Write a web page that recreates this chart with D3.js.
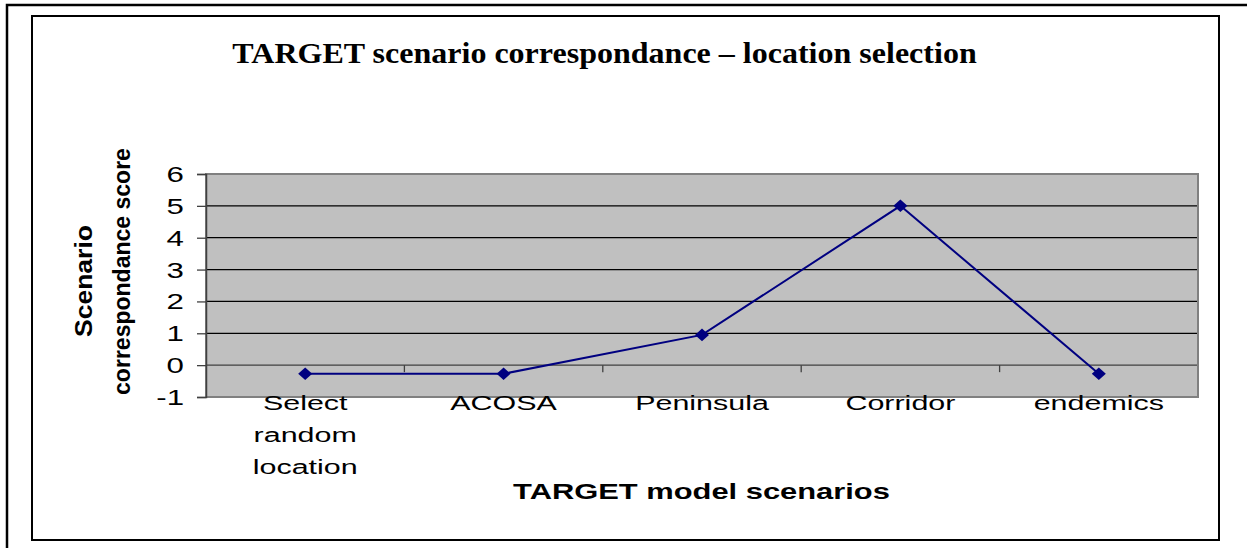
<!DOCTYPE html>
<html><head><meta charset="utf-8">
<script src="https://cdn.jsdelivr.net/npm/d3@7"></script>
<style>html,body{margin:0;padding:0;background:#fff;}svg{display:block;}</style>
</head><body>
<script>
const categories = ["Select random location", "ACOSA", "Peninsula", "Corridor", "endemics"];
const categoryLines = [["Select", "random", "location"], ["ACOSA"], ["Peninsula"], ["Corridor"], ["endemics"]];
const scores = [-0.27, -0.27, 0.95, 5, -0.27];
const yTicks = [-1, 0, 1, 2, 3, 4, 5, 6];
const titleText = "TARGET scenario correspondance \u2013 location selection";
const xTitle = "TARGET model scenarios";
const yTitleLines = ["Scenario", "correspondance score"];

const W = 1247, H = 548;
const SANS = "Liberation Sans, Arial, sans-serif";
const SERIF = "Liberation Serif, Times New Roman, serif";
const svg = d3.select("body").append("svg").attr("width", W).attr("height", H);

// place a text with horizontal stretch to a target width
function stretchText(g, str, ax, ay, opts) {
  const t = g.append("text").attr("x", 0).attr("y", 0)
    .attr("text-anchor", opts.anchor || "middle")
    .attr("font-family", opts.family || SANS)
    .attr("font-size", opts.size)
    .attr("font-weight", opts.weight || "normal")
    .attr("fill", "#000").text(str);
  const w = t.node().getComputedTextLength();
  const f = opts.width ? opts.width / w : (opts.factor || 1);
  t.attr("transform", `translate(${ax},${ay}) scale(${f},1)`);
  return t;
}

// outer frame (partial)
svg.append("path").attr("d", `M7,548 L7,5 L1247,5`).attr("fill", "none").attr("stroke", "#000").attr("stroke-width", 2.5);
// inner frame
svg.append("rect").attr("x", 32).attr("y", 16).attr("width", 1187).attr("height", 524)
  .attr("fill", "#fff").attr("stroke", "#000").attr("stroke-width", 2);

const pl = 206, pr = 1198, pt = 174, pb = 397;
const x = d3.scaleBand().domain(categories).range([pl, pr]);
const y = d3.scaleLinear().domain([-1, 6]).range([pb, pt]);

// plot area
svg.append("rect").attr("x", pl).attr("y", pt).attr("width", pr - pl).attr("height", pb - pt)
  .attr("fill", "#C0C0C0");

// gridlines
svg.append("g").selectAll("line").data(yTicks.filter(d => d > -1 && d < 6)).join("line")
  .attr("x1", pl).attr("x2", pr).attr("y1", d => y(d)).attr("y2", d => y(d))
  .attr("stroke", d => d === 0 ? "#404040" : "#000").attr("stroke-width", 1.3);

// plot border
svg.append("rect").attr("x", pl).attr("y", pt).attr("width", pr - pl).attr("height", pb - pt)
  .attr("fill", "none").attr("stroke", "#808080").attr("stroke-width", 2);

// y axis
const yAxis = d3.axisLeft(y).tickValues(yTicks).tickSize(9).tickFormat(d => String(d));
const yg = svg.append("g").attr("transform", `translate(${pl},0)`).call(yAxis);
yg.select(".domain").attr("stroke", "#404040").attr("stroke-width", 1.5);
yg.selectAll(".tick line").attr("stroke", "#404040").attr("stroke-width", 1.3);
yg.selectAll(".tick text").remove();
const ylab = svg.append("g");
yTicks.forEach(v => stretchText(ylab, String(v), 184, y(v) + 8, { size: 22, anchor: "end", factor: 1.42 }));

// x axis at y=0 with boundary ticks
const bounds = d3.range(1, categories.length).map(i => pl + x.step() * i);
svg.append("g").selectAll("line").data(bounds).join("line")
  .attr("x1", d => d).attr("x2", d => d).attr("y1", y(0)).attr("y2", y(0) + 7)
  .attr("stroke", "#404040").attr("stroke-width", 1.3);

// category labels
const lab = svg.append("g");
categories.forEach((c, i) => {
  categoryLines[i].forEach((ln, j) => {
    stretchText(lab, ln, x(c) + x.bandwidth() / 2, 410 + 32 * j, { size: 21, factor: 1.45 });
  });
});

// line + markers
const line = d3.line().x((d, i) => x(categories[i]) + x.bandwidth() / 2).y(d => y(d));
svg.append("path").datum(scores).attr("d", line).attr("fill", "none").attr("stroke", "#000080").attr("stroke-width", 2);
svg.append("g").selectAll("path").data(scores).join("path")
  .attr("d", d3.symbol().type(d3.symbolDiamond2).size(100))
  .attr("transform", (d, i) => `translate(${x(categories[i]) + x.bandwidth() / 2},${y(d)}) scale(1.12,1)`)
  .attr("fill", "#000080");

// title
stretchText(svg, titleText, 604.5, 63, { size: 30, family: SERIF, weight: "bold", width: 745 });

// x title
stretchText(svg, xTitle, 701.5, 499, { size: 22, weight: "bold", width: 377 });

// y title (rotated)
const yt1 = svg.append("g").attr("transform", "translate(92,281) rotate(-90)");
stretchText(yt1, yTitleLines[0], 0, 0, { size: 23, weight: "bold", width: 112 });
const yt2 = svg.append("g").attr("transform", "translate(130,271.5) rotate(-90)");
stretchText(yt2, yTitleLines[1], 0, 0, { size: 23, weight: "bold", width: 247 });
</script>
</body></html>
